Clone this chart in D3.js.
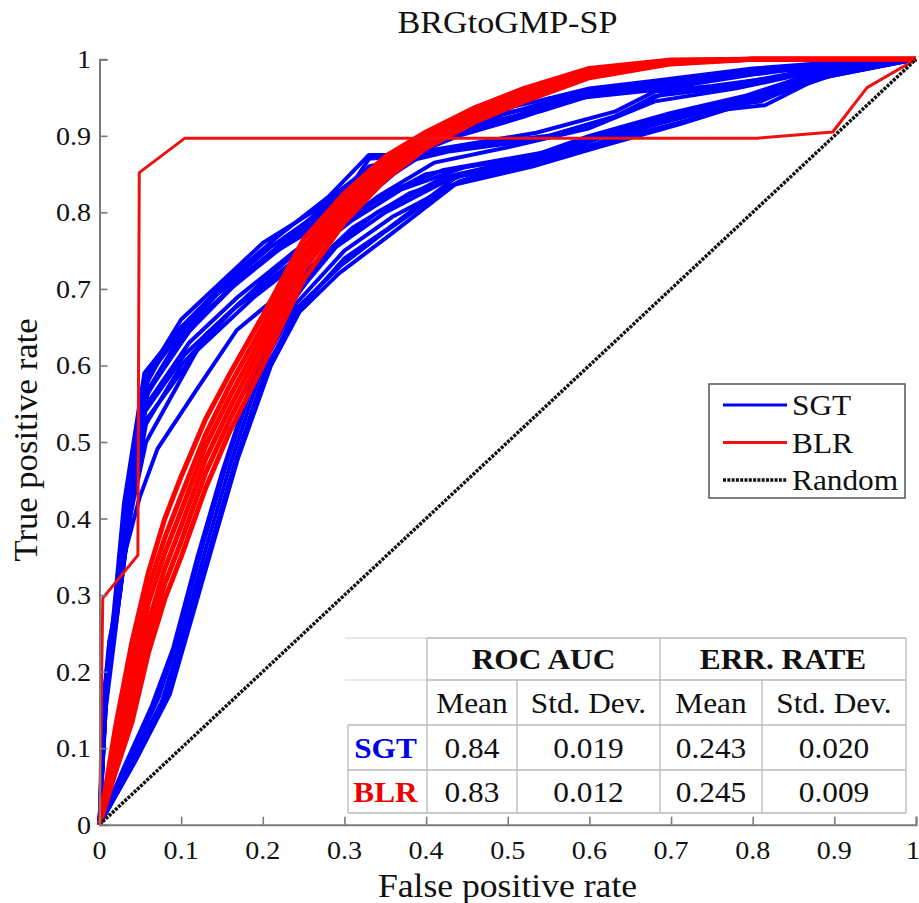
<!DOCTYPE html>
<html>
<head>
<meta charset="utf-8">
<script src="https://cdn.jsdelivr.net/npm/d3@7"></script>
<style>
  body { margin: 0; background: #fff; }
  text { font-family: "Liberation Serif", "Times New Roman", serif; fill: #111; }
</style>
</head>
<body>
<div id="chart"></div>
<script>
// ROC runs, [fpr, tpr]
const blueRuns = [
  [[0,0],[0.005,0.15],[0.015,0.25],[0.03,0.42],[0.055,0.59],[0.1,0.65],[0.16,0.715],[0.22,0.77],[0.28,0.82],[0.33,0.875],[0.36,0.875],[0.45,0.925],[0.535,0.945],[0.6,0.962],[0.68,0.972],[0.8,0.988],[0.9,0.996],[1,1]],
  [[0,0],[0.008,0.2],[0.02,0.28],[0.035,0.44],[0.055,0.58],[0.09,0.63],[0.15,0.7],[0.21,0.755],[0.27,0.8],[0.32,0.845],[0.37,0.875],[0.42,0.905],[0.535,0.94],[0.6,0.958],[0.7,0.97],[0.8,0.986],[1,1]],
  [[0,0],[0.01,0.22],[0.022,0.29],[0.04,0.45],[0.055,0.56],[0.1,0.64],[0.16,0.7],[0.23,0.76],[0.3,0.81],[0.34,0.85],[0.4,0.89],[0.463,0.912],[0.584,0.949],[0.68,0.96],[0.8,0.98],[0.9,0.994],[1,1]],
  [[0,0],[0.01,0.21],[0.024,0.3],[0.042,0.44],[0.06,0.59],[0.1,0.66],[0.15,0.71],[0.2,0.76],[0.26,0.8],[0.32,0.85],[0.39,0.895],[0.47,0.925],[0.55,0.94],[0.62,0.96],[0.7,0.968],[0.8,0.984],[0.9,0.996],[1,1]],
  [[0,0],[0.011,0.23],[0.02,0.29],[0.038,0.43],[0.057,0.575],[0.08,0.62],[0.14,0.69],[0.21,0.745],[0.28,0.79],[0.33,0.87],[0.38,0.875],[0.46,0.915],[0.54,0.932],[0.6,0.952],[0.68,0.963],[0.8,0.982],[1,1]],
  [[0,0],[0.007,0.17],[0.018,0.27],[0.033,0.41],[0.052,0.55],[0.09,0.62],[0.13,0.67],[0.19,0.73],[0.25,0.78],[0.3,0.82],[0.33,0.86],[0.37,0.87],[0.44,0.9],[0.52,0.925],[0.6,0.955],[0.7,0.97],[0.82,0.988],[1,1]],
  [[0,0],[0.006,0.18],[0.02,0.26],[0.038,0.41],[0.055,0.545],[0.11,0.63],[0.17,0.69],[0.24,0.75],[0.3,0.795],[0.36,0.85],[0.404,0.881],[0.535,0.904],[0.632,0.932],[0.68,0.958],[0.75,0.965],[0.82,0.975],[0.9,0.99],[1,1]],
  [[0,0],[0.012,0.24],[0.025,0.3],[0.04,0.43],[0.06,0.57],[0.12,0.66],[0.18,0.72],[0.24,0.775],[0.31,0.84],[0.35,0.86],[0.43,0.88],[0.535,0.895],[0.632,0.925],[0.68,0.952],[0.76,0.962],[0.85,0.98],[1,1]],
  [[0,0],[0.009,0.2],[0.021,0.28],[0.037,0.42],[0.056,0.56],[0.11,0.645],[0.17,0.71],[0.23,0.765],[0.29,0.805],[0.34,0.845],[0.39,0.875],[0.47,0.89],[0.55,0.9],[0.63,0.925],[0.69,0.955],[0.78,0.968],[0.88,0.988],[1,1]],
  [[0,0],[0.009,0.19],[0.022,0.28],[0.04,0.42],[0.055,0.52],[0.1,0.6],[0.17,0.68],[0.23,0.73],[0.29,0.78],[0.34,0.82],[0.41,0.865],[0.5,0.885],[0.6,0.91],[0.68,0.945],[0.78,0.962],[0.88,0.985],[1,1]],
  [[0,0],[0.005,0.14],[0.017,0.25],[0.034,0.4],[0.056,0.54],[0.105,0.615],[0.16,0.67],[0.22,0.72],[0.28,0.77],[0.35,0.825],[0.42,0.855],[0.5,0.87],[0.58,0.885],[0.66,0.915],[0.75,0.935],[0.83,0.955],[0.9,0.98],[1,1]],
  [[0,0],[0.004,0.12],[0.018,0.24],[0.036,0.4],[0.058,0.53],[0.12,0.62],[0.19,0.69],[0.25,0.74],[0.31,0.79],[0.37,0.83],[0.45,0.86],[0.55,0.875],[0.62,0.905],[0.73,0.93],[0.815,0.94],[0.88,0.975],[1,1]],
  [[0,0],[0.007,0.16],[0.02,0.27],[0.035,0.39],[0.057,0.5],[0.13,0.64],[0.2,0.71],[0.26,0.765],[0.33,0.81],[0.4,0.85],[0.48,0.865],[0.56,0.88],[0.65,0.91],[0.73,0.935],[0.81,0.945],[0.88,0.978],[1,1]],
  [[0,0],[0.01,0.2],[0.03,0.35],[0.049,0.427],[0.071,0.491],[0.12,0.57],[0.168,0.646],[0.24,0.71],[0.31,0.78],[0.38,0.825],[0.45,0.85],[0.55,0.868],[0.63,0.895],[0.72,0.92],[0.8,0.945],[0.87,0.975],[1,1]],
  [[0,0],[0.035,0.08],[0.072,0.165],[0.095,0.24],[0.125,0.36],[0.155,0.47],[0.195,0.6],[0.235,0.685],[0.29,0.755],[0.35,0.8],[0.44,0.85],[0.535,0.87],[0.607,0.9],[0.7,0.925],[0.8,0.95],[0.874,0.978],[0.95,0.993],[1,1]],
  [[0,0],[0.038,0.08],[0.076,0.16],[0.098,0.235],[0.13,0.36],[0.16,0.47],[0.2,0.6],[0.24,0.68],[0.3,0.75],[0.36,0.795],[0.44,0.84],[0.53,0.865],[0.61,0.89],[0.71,0.925],[0.8,0.948],[0.88,0.978],[1,1]],
  [[0,0],[0.04,0.08],[0.08,0.165],[0.1,0.23],[0.135,0.36],[0.165,0.47],[0.205,0.6],[0.25,0.68],[0.3,0.74],[0.355,0.78],[0.438,0.847],[0.535,0.864],[0.607,0.895],[0.7,0.92],[0.8,0.947],[0.874,0.977],[0.95,0.992],[1,1]],
  [[0,0],[0.042,0.082],[0.083,0.167],[0.102,0.235],[0.137,0.365],[0.167,0.475],[0.207,0.6],[0.242,0.675],[0.295,0.73],[0.35,0.775],[0.43,0.835],[0.53,0.86],[0.61,0.885],[0.71,0.915],[0.8,0.945],[0.88,0.975],[1,1]],
  [[0,0],[0.045,0.085],[0.086,0.17],[0.105,0.24],[0.14,0.37],[0.17,0.48],[0.21,0.6],[0.245,0.67],[0.293,0.72],[0.355,0.77],[0.44,0.84],[0.52,0.87],[0.62,0.9],[0.72,0.93],[0.8,0.952],[0.88,0.98],[1,1]],
  [[0,0],[0.03,0.075],[0.064,0.155],[0.09,0.23],[0.12,0.35],[0.15,0.46],[0.19,0.59],[0.225,0.665],[0.28,0.75],[0.34,0.8],[0.42,0.845],[0.52,0.87],[0.6,0.9],[0.7,0.93],[0.79,0.952],[0.87,0.98],[1,1]]
];

const redFpr = [0,0.02,0.04,0.06,0.08,0.1,0.13,0.16,0.2,0.25,0.3,0.35,0.4,0.46,0.52,0.6,0.7,0.8,1];
const redTpr = [
  [0,0.13,0.24,0.33,0.40,0.455,0.53,0.59,0.665,0.765,0.825,0.873,0.905,0.937,0.962,0.988,0.999,1,1],
  [0,0.115,0.215,0.31,0.375,0.43,0.51,0.575,0.652,0.755,0.818,0.868,0.901,0.933,0.958,0.986,0.998,1,1],
  [0,0.1,0.19,0.29,0.355,0.41,0.495,0.56,0.64,0.745,0.81,0.862,0.897,0.93,0.955,0.983,0.997,1,1],
  [0,0.09,0.17,0.265,0.335,0.39,0.478,0.545,0.628,0.735,0.802,0.856,0.893,0.926,0.952,0.981,0.996,1,1],
  [0,0.08,0.15,0.245,0.315,0.37,0.46,0.53,0.615,0.725,0.795,0.85,0.888,0.922,0.949,0.979,0.995,1,1],
  [0,0.07,0.135,0.225,0.295,0.35,0.44,0.515,0.6,0.712,0.787,0.843,0.884,0.918,0.945,0.976,0.994,1,1]
];
const redOddRun = [[0,0],[0.004,0.296],[0.047,0.352],[0.0487,0.852],[0.1046,0.897],[0.806,0.897],[0.898,0.905],[0.94,0.963],[1,1]];
const randomLine = [[0,0],[1,1]];

const ticks = [0,0.1,0.2,0.3,0.4,0.5,0.6,0.7,0.8,0.9,1];

const tableModels = ["SGT", "BLR"];
const tableColors = ["#0000ee", "#ee0000"];
const aucMean = ["0.84", "0.83"];
const aucStd = ["0.019", "0.012"];
const errMean = ["0.243", "0.245"];
const errStd = ["0.020", "0.009"];

const legendNames = ["SGT", "BLR", "Random"];

const W = 919, H = 903;
const SX = 1.08;

const svg = d3.select("#chart").append("svg")
  .attr("width", W).attr("height", H);

const x = d3.scaleLinear().domain([0, 1]).range([99.5, 916]);
const y = d3.scaleLinear().domain([0, 1]).range([824.7, 59.3]);

function txt(g, px, py, s, size, anchor, extra) {
  const t = g.append("text")
    .attr("transform", "translate(" + px + "," + py + ") scale(" + SX + ",1)")
    .attr("font-size", size)
    .attr("text-anchor", anchor || "start")
    .text(s);
  if (extra) extra(t);
  return t;
}

const line = d3.line().x(d => x(d[0])).y(d => y(d[1]));

// blue runs
svg.append("g").selectAll("path").data(blueRuns).join("path")
  .attr("d", line)
  .attr("fill", "none").attr("stroke", "#0000ff")
  .attr("stroke-width", 4).attr("stroke-linejoin", "round");

// red runs
const redRuns = redTpr.map(ys => ys.map((v, i) => [redFpr[i], v]));
svg.append("g").selectAll("path").data(redRuns).join("path")
  .attr("d", line)
  .attr("fill", "none").attr("stroke", "#ff0000")
  .attr("stroke-width", 5).attr("stroke-linejoin", "round");

svg.append("path").datum(redOddRun)
  .attr("d", line)
  .attr("fill", "none").attr("stroke", "#ee1111")
  .attr("stroke-width", 3).attr("stroke-linejoin", "round");

// random
svg.append("path").datum(randomLine)
  .attr("d", line)
  .attr("fill", "none").attr("stroke", "#111")
  .attr("stroke-width", 3.5).attr("stroke-dasharray", "3,1.3");

// axes
const axisCol = "#7a7a7a";
const gx = svg.append("g").attr("transform", "translate(0," + y(0) + ")")
  .call(d3.axisBottom(x).tickValues(ticks).tickSize(-8).tickFormat(""));
const gy = svg.append("g").attr("transform", "translate(" + x(0) + ",0)")
  .call(d3.axisLeft(y).tickValues(ticks).tickSize(-8).tickFormat(""));
[gx, gy].forEach(g => {
  g.select(".domain").attr("stroke", axisCol).attr("stroke-width", 2);
  g.selectAll(".tick line").attr("stroke", axisCol).attr("stroke-width", 1.6);
});

// tick labels (last x label nudged so it stays inside the page)
ticks.forEach(t => {
  txt(svg, Math.min(x(t), 913), 859, String(t), 26, "middle");
  txt(svg, 91, y(t) + 9, String(t), 26, "end");
});

// title and axis labels
svg.append("text")
  .attr("transform", "translate(507.5,33) scale(1.1,1)")
  .attr("font-size", 31).attr("text-anchor", "middle")
  .text("BRGtoGMP-SP");
txt(svg, 507.5, 897, "False positive rate", 33, "middle");
svg.append("text")
  .attr("transform", "translate(37,440) rotate(-90) scale(1.05,1)")
  .attr("font-size", 33).attr("text-anchor", "middle")
  .text("True positive rate");

// legend
const lg = svg.append("g");
lg.append("rect").attr("x", 709).attr("y", 384).attr("width", 196).attr("height", 114)
  .attr("fill", "#fff").attr("stroke", "#555").attr("stroke-width", 1.5);
const legStyles = [
  { c: "#0000ff", w: 3, dash: null },
  { c: "#ee1111", w: 3, dash: null },
  { c: "#111", w: 3.5, dash: "3,1.3" }
];
legendNames.forEach((n, i) => {
  const cy = 405 + i * 37.5;
  lg.append("line").attr("x1", 723).attr("x2", 787).attr("y1", cy).attr("y2", cy)
    .attr("stroke", legStyles[i].c).attr("stroke-width", legStyles[i].w)
    .attr("stroke-dasharray", legStyles[i].dash);
  txt(lg, 792, cy + 10, n, 29, "start");
});

// stats table
const tb = svg.append("g");
const cols = [348, 427, 517, 660, 762, 906];
const rows = [638, 680, 725, 770, 813];
tb.append("rect").attr("x", 343).attr("y", rows[0]).attr("width", cols[5] - 343)
  .attr("height", rows[4] - rows[0]).attr("fill", "#fff");
const gridCol = "#b8b8b8";
function seg(x1, y1, x2, y2, c) {
  tb.append("line").attr("x1", x1).attr("y1", y1).attr("x2", x2).attr("y2", y2)
    .attr("stroke", c || gridCol).attr("stroke-width", 1.3);
}
seg(345, rows[0], cols[1], rows[0], "#e2e2e2");
seg(345, rows[1], cols[1], rows[1], "#e2e2e2");
seg(cols[1], rows[0], cols[5], rows[0]);
seg(cols[1], rows[1], cols[5], rows[1]);
seg(cols[0], rows[2], cols[5], rows[2]);
seg(cols[0], rows[3], cols[5], rows[3]);
seg(cols[0], rows[4], cols[5], rows[4]);
seg(cols[0], rows[2], cols[0], rows[4]);
seg(cols[1], rows[0], cols[1], rows[4]);
seg(cols[3], rows[0], cols[3], rows[4]);
seg(cols[5], rows[0], cols[5], rows[4]);
seg(cols[2], rows[1], cols[2], rows[4]);
seg(cols[4], rows[1], cols[4], rows[4]);

const mid = (a, b) => (a + b) / 2;
const bold = t => t.attr("font-weight", "bold");
txt(tb, mid(cols[1], cols[3]), mid(rows[0], rows[1]) + 10, "ROC AUC", 29, "middle", bold);
txt(tb, mid(cols[3], cols[5]), mid(rows[0], rows[1]) + 10, "ERR. RATE", 29, "middle", bold);
[["Mean", 1], ["Std. Dev.", 2], ["Mean", 3], ["Std. Dev.", 4]].forEach(([s, c]) => {
  txt(tb, mid(cols[c], cols[c + 1]), mid(rows[1], rows[2]) + 10, s, 29, "middle");
});
tableModels.forEach((m, i) => {
  const by = mid(rows[2 + i], rows[3 + i]) + 10;
  txt(tb, mid(cols[0], cols[1]) - 2, by, m, 29, "middle", t => t.attr("font-weight", "bold").style("fill", tableColors[i]));
  txt(tb, mid(cols[1], cols[2]), by, aucMean[i], 29, "middle");
  txt(tb, mid(cols[2], cols[3]), by, aucStd[i], 29, "middle");
  txt(tb, mid(cols[3], cols[4]), by, errMean[i], 29, "middle");
  txt(tb, mid(cols[4], cols[5]), by, errStd[i], 29, "middle");
});
</script>
</body>
</html>
